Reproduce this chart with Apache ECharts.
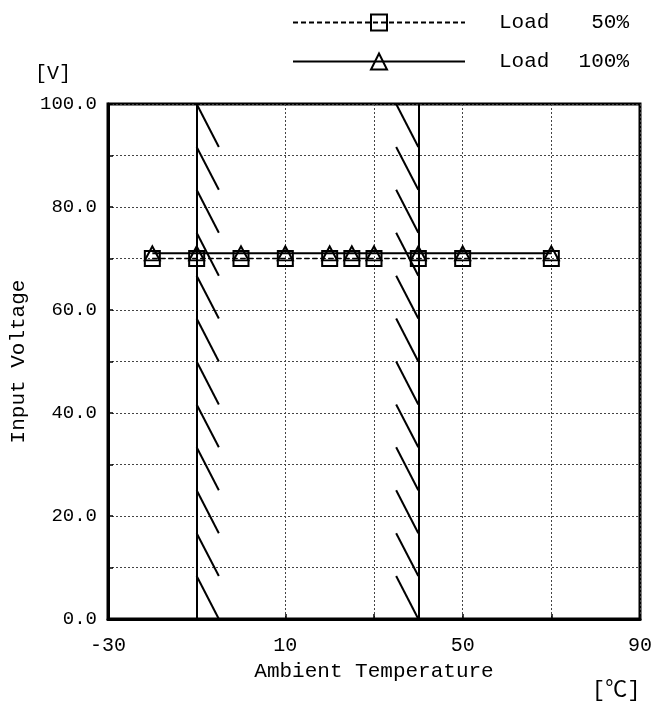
<!DOCTYPE html>
<html>
<head>
<meta charset="utf-8">
<script src="https://cdn.jsdelivr.net/npm/echarts@6/dist/echarts.min.js"></script>
<style>
html,body{margin:0;padding:0;background:#fff;}
#c{width:655px;height:709px;}
</style>
</head>
<body>
<div id="c"></div>
<script>
// ---- data ----
var temps = [-20, -10, 0, 10, 20, 25, 30, 40, 50, 70];
var load50 = [70.0, 70.0, 70.0, 70.0, 70.0, 70.0, 70.0, 70.0, 70.0, 70.0];
var load100 = [71.0, 71.0, 71.0, 71.0, 71.0, 71.0, 71.0, 71.0, 71.0, 71.0];
var seriesNames = ['Load 50%', 'Load 100%'];
var boundaries = [-10, 40];           // operating range limits
var xTickLabels = [-30, 10, 50, 90];
var yTickLabels = [0, 20, 40, 60, 80, 100];
var hatchCount = 12;                  // hatch strokes per boundary
var hatchWidth = 5;                   // in temperature units

var FONT = '"Liberation Mono", "Noto Sans CJK JP", monospace';

function pairs(xs, ys) { return xs.map(function (x, i) { return [x, ys[i]]; }); }

// hatch strokes (decoration) derived from boundaries
var hatchData = [];
for (var k = 0; k < hatchCount; k++) {
  hatchData.push([boundaries[0], 100 - k * 100 / hatchCount, boundaries[0] + hatchWidth, 100 - (k + 1) * 100 / hatchCount]);
  hatchData.push([boundaries[1] - hatchWidth, 100 - k * 100 / hatchCount, boundaries[1], 100 - (k + 1) * 100 / hatchCount]);
}

var chart = echarts.init(document.getElementById('c'), null, {renderer: 'canvas'});
var option = {
  backgroundColor: '#fff',
  animation: false,
  textStyle: {fontFamily: FONT, color: '#000'},
  grid: {left: 108, right: 14, top: 104, bottom: 90, show: true, borderColor: '#000', borderWidth: 3, backgroundColor: 'transparent'},
  legend: {
    orient: 'vertical', left: 287, top: 7,
    itemWidth: 172, itemHeight: 20, itemGap: 18,
    data: seriesNames,
    formatter: function (n) {
      var p = n.split(' ');
      return '{s|}{a|' + p[0] + '}{b|' + p[1] + '}';
    },
    textStyle: {
      fontFamily: FONT, fontSize: 21, color: '#000',
      rich: {
        s: {width: 29},
        a: {width: 80, fontFamily: FONT, fontSize: 21, color: '#000'},
        b: {width: 50, align: 'right', fontFamily: FONT, fontSize: 21, color: '#000'}
      }
    }
  },
  xAxis: {
    type: 'value', min: -30, max: 90, interval: 20,
    name: 'Ambient Temperature', nameLocation: 'middle', nameGap: 37,
    nameTextStyle: {fontFamily: FONT, fontSize: 21, color: '#000'},
    axisLine: {show: true, onZero: false, lineStyle: {color: '#000', width: 3}},
    axisTick: {show: true, inside: true, length: 5, lineStyle: {color: '#000', width: 1.5}},
    splitLine: {show: true, lineStyle: {color: '#444', width: 1, type: [2, 2]}},
    axisLabel: {
      fontFamily: FONT, fontSize: 20, color: '#000', margin: 17,
      formatter: function (v) { return xTickLabels.indexOf(v) >= 0 ? String(v) : ''; }
    }
  },
  yAxis: {
    type: 'value', min: 0, max: 100, interval: 10,
    name: 'Input Voltage', nameLocation: 'middle', nameGap: 77, nameRotate: 90,
    nameTextStyle: {fontFamily: FONT, fontSize: 21, color: '#000'},
    axisLine: {show: true, onZero: false, lineStyle: {color: '#000', width: 3}},
    axisTick: {show: true, inside: true, length: 5, lineStyle: {color: '#000', width: 1.5}},
    splitLine: {show: true, lineStyle: {color: '#444', width: 1, type: [2, 2]}},
    axisLabel: {
      fontFamily: FONT, fontSize: 19, color: '#000', margin: 11,
      formatter: function (v) { return yTickLabels.indexOf(v) >= 0 ? v.toFixed(1) : ''; }
    }
  },
  graphic: [
    {type: 'text', left: 35, top: 64, style: {text: '[V]', font: '20px ' + FONT, fill: '#000'}},
    {type: 'text', left: 592, top: 679, style: {text: '[℃]', font: '22px ' + FONT, fill: '#000'}}
  ],
  series: [
    {
      name: 'bounds', type: 'line', silent: true, symbol: 'none', data: [],
      markLine: {
        silent: true, symbol: 'none', label: {show: false},
        lineStyle: {color: '#000', width: 2, type: 'solid'},
        data: boundaries.map(function (b) { return {xAxis: b}; })
      }
    },
    {
      name: 'hatch', type: 'custom', silent: true, data: hatchData,
      renderItem: function (params, api) {
        var p1 = api.coord([api.value(0), api.value(1)]);
        var p2 = api.coord([api.value(2), api.value(3)]);
        return {type: 'line', shape: {x1: p1[0], y1: p1[1], x2: p2[0], y2: p2[1]}, style: {stroke: '#000', lineWidth: 2}};
      },
      z: 1
    },
    {
      name: seriesNames[0], type: 'line', data: pairs(temps, load50),
      symbol: 'rect', symbolSize: 15,
      lineStyle: {color: '#000', width: 1.3, type: [5, 3]},
      itemStyle: {color: 'rgba(255,255,255,0)', borderColor: '#000', borderWidth: 2},
      z: 3
    },
    {
      name: seriesNames[1], type: 'line', data: pairs(temps, load100),
      symbol: 'triangle', symbolSize: [15, 14],
      lineStyle: {color: '#000', width: 2, type: 'solid'},
      itemStyle: {color: 'rgba(255,255,255,0)', borderColor: '#000', borderWidth: 2},
      z: 4
    }
  ]
};
chart.setOption(option);
</script>
</body>
</html>
